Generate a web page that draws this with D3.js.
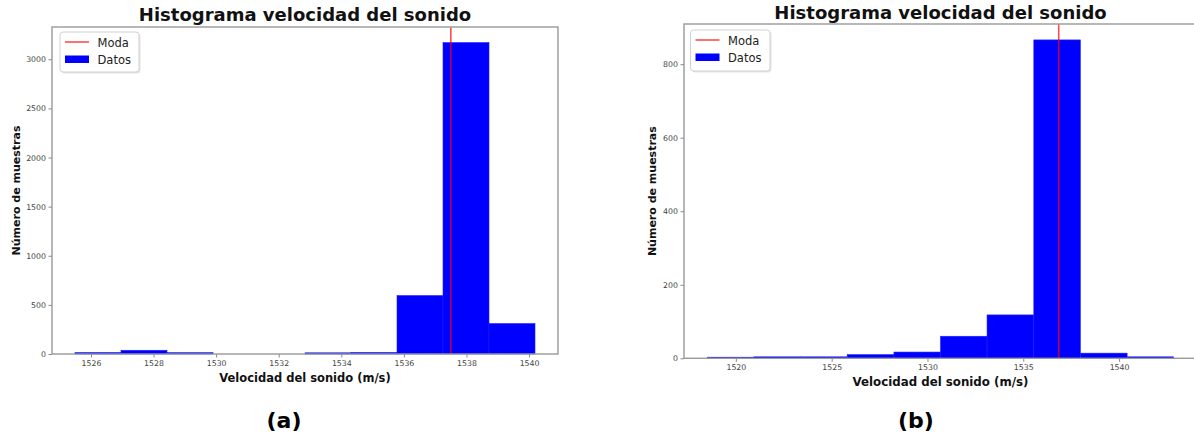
<!DOCTYPE html>
<html>
<head>
<meta charset="utf-8">
<script src="https://cdn.jsdelivr.net/npm/d3@7"></script>
<style>
  html, body { margin: 0; padding: 0; background: #fff; }
  svg { display: block; }
  text { font-family: "DejaVu Sans", sans-serif; }
</style>
</head>
<body>
<svg id="fig" width="1194" height="438"></svg>
<script>
// Panel (a): histogram bin edges, counts and mode
const edgesA = [1525.49, 1526.96, 1528.43, 1529.90, 1531.37, 1532.84, 1534.31, 1535.78, 1537.25, 1538.72, 1540.19];
const countsA = [15, 38, 14, 0, 0, 12, 16, 595, 3170, 310];
const modeA = 1537.5;
const xTicksA = [1526, 1528, 1530, 1532, 1534, 1536, 1538, 1540];
const yTicksA = [0, 500, 1000, 1500, 2000, 2500, 3000];

// Panel (b): histogram bin edges, counts and mode
const edgesB = [1518.51, 1520.94, 1523.38, 1525.81, 1528.25, 1530.68, 1533.11, 1535.55, 1537.98, 1540.42, 1542.85];
const countsB = [3, 4, 4, 10, 17, 60, 118, 866, 14, 4];
const modeB = 1536.85;
const xTicksB = [1520, 1525, 1530, 1535, 1540];
const yTicksB = [0, 200, 400, 600, 800];

const titleText = "Histograma velocidad del sonido";
const xLabelText = "Velocidad del sonido (m/s)";
const yLabelText = "Número de muestras";
const legendLabels = ["Moda", "Datos"];

const svg = d3.select("#fig");
svg.append("rect").attr("width", 1194).attr("height", 438).attr("fill", "#fff");

const panels = [
  { edges: edgesA, counts: countsA, mode: modeA, xTicks: xTicksA, yTicks: yTicksA, tag: "(a)",
    box: { l: 52, r: 558, t: 27, b: 354 }, titleY: 21, xLabelSize: 11.5, yLabelX: 19.5, tagX: 284,
    legend: { x: 60, y: 32, w: 79, h: 40 } },
  { edges: edgesB, counts: countsB, mode: modeB, xTicks: xTicksB, yTicks: yTicksB, tag: "(b)",
    box: { l: 684, r: 1197, t: 24, b: 358.3 }, titleY: 19, xLabelSize: 11.8, yLabelX: 656, tagX: 916,
    legend: { x: 690.5, y: 30, w: 79.5, h: 41 } }
];

panels.forEach(p => {
  const { l, r, t, b } = p.box;
  const lo = p.edges[0], hi = p.edges[p.edges.length - 1];
  const pad = (hi - lo) * 0.05;
  const x = d3.scaleLinear().domain([lo - pad, hi + pad]).range([l, r]);
  const y = d3.scaleLinear().domain([0, d3.max(p.counts) * 1.05]).range([b, t]);

  const g = svg.append("g");

  // bars
  const bins = p.counts.map((c, i) => ({ x0: p.edges[i], x1: p.edges[i + 1], c }));
  g.append("g").selectAll("rect").data(bins.filter(d => d.c > 0)).join("rect")
    .attr("x", d => x(d.x0))
    .attr("width", d => x(d.x1) - x(d.x0))
    .attr("y", d => y(d.c))
    .attr("height", d => y(0) - y(d.c))
    .attr("fill", "#0000ff")
    .attr("stroke", "#2020ff").attr("stroke-width", 0.6);

  // mode line
  g.append("line")
    .attr("x1", x(p.mode)).attr("x2", x(p.mode))
    .attr("y1", t).attr("y2", b)
    .attr("stroke", "#ff0000").attr("stroke-opacity", 0.7).attr("stroke-width", 1.6);

  // axes
  const xAxis = d3.axisBottom(x).tickValues(p.xTicks).tickSize(3.5).tickPadding(2.5).tickFormat(d3.format("d"));
  const yAxis = d3.axisLeft(y).tickValues(p.yTicks).tickSize(3.5).tickPadding(2.5).tickFormat(d3.format("d"));
  const gx = g.append("g").attr("transform", `translate(0,${b})`).call(xAxis);
  const gy = g.append("g").attr("transform", `translate(${l},0)`).call(yAxis);
  [gx, gy].forEach(ax => {
    ax.select(".domain").remove();
    ax.selectAll(".tick line").attr("stroke", "#888").attr("stroke-width", 1);
    ax.selectAll(".tick text").attr("fill", "#444").attr("font-size", 7.8)
      .attr("font-family", "DejaVu Sans, sans-serif");
  });

  // frame
  g.append("rect")
    .attr("x", l).attr("y", t).attr("width", r - l).attr("height", b - t)
    .attr("fill", "none").attr("stroke", "#999").attr("stroke-width", 1.4);

  // title and axis labels
  g.append("text").attr("x", (l + r) / 2).attr("y", p.titleY)
    .attr("text-anchor", "middle").attr("font-size", 18).attr("font-weight", "bold")
    .attr("fill", "#111").text(titleText);
  g.append("text").attr("x", (l + r) / 2).attr("y", b + 27.5)
    .attr("text-anchor", "middle").attr("font-size", p.xLabelSize).attr("font-weight", "bold")
    .attr("fill", "#111").text(xLabelText);
  g.append("text")
    .attr("transform", `translate(${p.yLabelX},${(t + b) / 2}) rotate(-90)`)
    .attr("text-anchor", "middle").attr("font-size", 11).attr("font-weight", "bold")
    .attr("fill", "#111").text(yLabelText);

  // legend
  const L = p.legend;
  const lg = g.append("g");
  lg.append("rect").attr("x", L.x + 1.5).attr("y", L.y + 1.5).attr("width", L.w).attr("height", L.h)
    .attr("rx", 3).attr("fill", "#e6e6e6");
  lg.append("rect").attr("x", L.x).attr("y", L.y).attr("width", L.w).attr("height", L.h)
    .attr("rx", 3).attr("fill", "#fff").attr("stroke", "#d0d0d0").attr("stroke-width", 1);
  lg.append("line").attr("x1", L.x + 5).attr("x2", L.x + 29)
    .attr("y1", L.y + 10).attr("y2", L.y + 10)
    .attr("stroke", "#ff0000").attr("stroke-opacity", 0.7).attr("stroke-width", 1.6);
  lg.append("rect").attr("x", L.x + 5).attr("y", L.y + 23.5).attr("width", 24).attr("height", 7.5)
    .attr("fill", "#0000ff");
  lg.append("text").attr("x", L.x + 37.5).attr("y", L.y + 14.5)
    .attr("font-size", 11.5).attr("fill", "#222").text(legendLabels[0]);
  lg.append("text").attr("x", L.x + 37.5).attr("y", L.y + 32)
    .attr("font-size", 11.5).attr("fill", "#222").text(legendLabels[1]);

  // panel tag
  g.append("text").attr("x", p.tagX).attr("y", 428)
    .attr("text-anchor", "middle").attr("font-size", 22).attr("font-weight", "bold")
    .attr("fill", "#000").text(p.tag);
});
</script>
</body>
</html>
